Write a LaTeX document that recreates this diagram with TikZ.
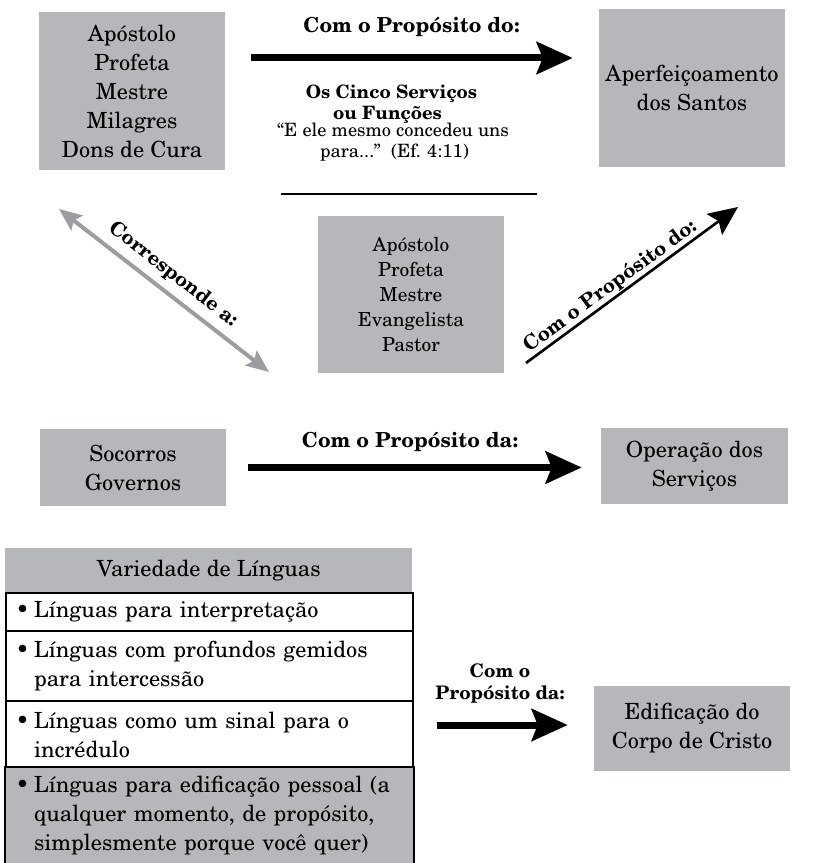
\documentclass[tikz,border=0pt]{standalone}
\usepackage[T1]{fontenc}
\usepackage{newcent}
\usetikzlibrary{arrows.meta}
\definecolor{boxgray}{RGB}{181,183,186}
\definecolor{arrgray}{RGB}{155,157,160}
\begin{document}
\begin{tikzpicture}[x=0.75pt,y=-0.75pt,
  gbox/.style={fill=boxgray, inner sep=0pt, align=center},
  bigfont/.style={font=\fontsize{16.7}{21.75}\selectfont},
  midfont/.style={font=\fontsize{14.5}{18.75}\selectfont},
  lbl/.style={font=\fontsize{15.5}{16.5}\selectfont\bfseries, inner sep=0pt},
  dlbl/.style={font=\fontsize{15}{16.5}\selectfont\bfseries, inner sep=0pt},
  lblsmall/.style={font=\fontsize{14}{16.5}\selectfont\bfseries, inner sep=0pt},
  quote/.style={font=\fontsize{13.75}{15}\selectfont, inner sep=0pt},
  title/.style={font=\fontsize{13.8}{15.75}\selectfont\bfseries, inner sep=0pt},
  fat/.style={line width=5.25pt, -{Stealth[length=27pt,width=24pt,inset=4.5pt]}},
  garrow/.style={draw=arrgray, line width=3pt, {Stealth[length=17pt,width=14pt,inset=3pt]}-{Stealth[length=17pt,width=14pt,inset=3pt]}},
  tarrow/.style={line width=2pt, -{Stealth[length=22pt,width=19.5pt,inset=4pt]}},
  rowbox/.style={draw, line width=1.5pt, fill=white, anchor=north west, text width=290.25pt, inner xsep=7.5pt, inner ysep=0pt, align=left, bigfont}
]
\useasboundingbox (0,0) rectangle (817,863);
\fill[white] (0,0) rectangle (817,863);

% top row
\node[gbox,bigfont,minimum width=139.5pt,minimum height=118.5pt] (tl) at (132,91) {Apóstolo\\Profeta\\Mestre\\Milagres\\Dons de Cura};
\node[gbox,bigfont,minimum width=139.5pt,minimum height=118.5pt] (tr) at (692,88) {Aperfeiçoamento\\dos Santos};
\coordinate (y1) at (0,58);
\draw[fat, shorten <=19.5pt, shorten >=19.5pt] (tl.east |- y1) -- (tr.west |- y1);
\node[lbl, anchor=base] (l1) at (411.5,33) {Com o Propósito do:};

\node[title, anchor=base] (c1) at (391.5,99) {Os Cinco Serviços};
\node[title, anchor=base] (c2) at (387.5,120) {ou Funções};
\node[quote, anchor=base] (c3) at (393,137) {``E ele mesmo concedeu uns};
\node[quote, anchor=base] (c4) at (394.5,157) {para...''\ \ (Ef. 4:11)};
\draw[line width=1.5pt] (281,194) -- (537,194);

% middle
\node[gbox,midfont,minimum width=139.5pt,minimum height=117.75pt] (mid) at (411,294.5) {Apóstolo\\Profeta\\Mestre\\Evangelista\\Pastor};
\coordinate (g1) at (59,209);
\coordinate (g2) at (269,372);
\draw[garrow] (g1) -- node[dlbl, sloped, pos=0.49, above=5pt] (corr) {Corresponde a:} (g2);
\coordinate (b1) at (526,363);
\coordinate (b2) at (738,207);
\draw[tarrow] (b1) -- node[dlbl, sloped, pos=0.43, above=0.5pt] (l2) {Com o Propósito do:} (b2);

% third row
\node[gbox,bigfont,minimum width=139.5pt,minimum height=57.75pt] (soc) at (133,467.5) {Socorros\\Governos};
\node[gbox,bigfont,minimum width=140.25pt,minimum height=57pt] (op) at (694.5,466) {Operação dos\\Serviços};
\draw[fat, shorten <=16.5pt, shorten >=14.25pt] (soc.east) -- (soc.east -| op.west);
\node[lbl, anchor=base] (l3) at (410,447) {Com o Propósito da:};

% table
\node[fill=boxgray, bigfont, minimum width=305.25pt, minimum height=33pt, inner sep=0pt, anchor=north west] (hdr) at (5,548) {Variedade de Línguas};
\node[rowbox, minimum height=28.5pt] (r1) at (5,592) {\makebox[13.5pt][l]{\textbullet}Línguas para interpretação};
\node[rowbox, minimum height=52.5pt] (r2) at (5,630) {\makebox[13.5pt][l]{\textbullet}Línguas com profundos gemidos\\\hspace*{13.5pt}para intercessão};
\node[rowbox, minimum height=50.25pt] (r3) at (5,700) {\makebox[13.5pt][l]{\textbullet}Línguas como um sinal para o\\\hspace*{13.5pt}incrédulo};
\node[rowbox, draw=none, fill=boxgray, minimum height=72pt] (r4) at (5,767) {\makebox[13.5pt][l]{\textbullet}Línguas para edificação pessoal (a\\\hspace*{13.5pt}qualquer momento, de propósito,\\\hspace*{13.5pt}simplesmente porque você quer)};
\draw[line width=1.5pt] (r4.south west) -- (r4.north west) -- (r4.north east) -- (r4.south east);

% bottom
\node[gbox,bigfont,minimum width=147pt,minimum height=63.75pt] (ed) at (692,728.5) {Edificação do\\Corpo de Cristo};
\coordinate (y3) at (0,725);
\draw[fat, shorten <=17.25pt, shorten >=19.5pt] (r3.east |- y3) -- (ed.west |- y3);
\node[lblsmall, anchor=base] (l4) at (500,677) {Com o};
\node[lblsmall, anchor=base] (l5) at (500,699) {Propósito da:};
\end{tikzpicture}
\end{document}
